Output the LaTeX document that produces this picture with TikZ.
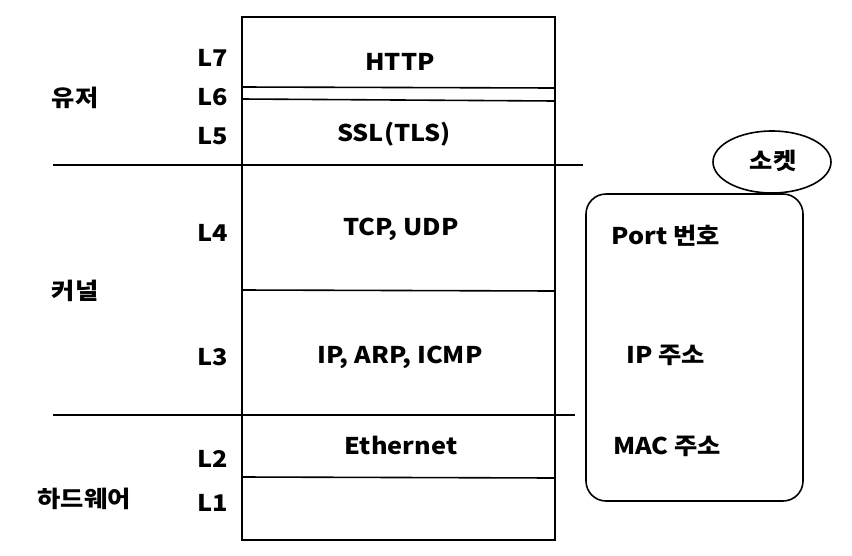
\documentclass[tikz,border=0pt]{standalone}
\usepackage{fontspec}
\setmainfont{Noto Sans CJK KR}[FakeStretch=1.1]

\begin{document}
\begin{tikzpicture}[x=1pt,y=-1pt,line width=1.6pt]
    \tikzstyle{label}=[font=\fontsize{23}{26}\selectfont\bfseries, inner sep=0pt]
    \tikzstyle{layer}=[label, anchor=base]
    \tikzstyle{proto}=[label, anchor=base]
    \tikzstyle{divider}=[line width=1.6pt]

    \useasboundingbox (0,0) rectangle (852,555);

    % Draw the protocol stack
    \draw (242,17) rectangle (555,540);
    \draw[divider] (242,87) -- (555,88);
    \draw[divider] (242,99) -- (555,101);
    \draw[divider] (242,290) -- (555,291);
    \draw[divider] (242,477) -- (555,478);

    % Draw the boundaries between user, kernel and hardware
    \draw[divider] (53,165) -- (583,165);
    \draw[divider] (53,415) -- (575,415);

    % Protocols in each layer
    \node[proto] (http) at (400,70) {HTTP};
    \node[proto] (ssl) at (394,141) {SSL(TLS)};
    \node[proto] (tcp) at (401,235) {TCP, UDP};
    \node[proto] (ip) at (400,363) {IP, ARP, ICMP};
    \node[proto] (eth) at (401,454) {Ethernet};

    % Layer numbers
    \node[layer] (L7) at (213,66) {L7};
    \node[layer] (L6) at (213,105) {L6};
    \node[layer] (L5) at (213,144) {L5};
    \node[layer] (L4) at (213,241) {L4};
    \node[layer] (L3) at (213,365) {L3};
    \node[layer] (L2) at (213,467) {L2};
    \node[layer] (L1) at (213,511) {L1};

    % Annotate the spaces
    \node[label] (user) at (75,98) {유저};
    \node[label] (kernel) at (75,291) {커널};
    \node[label] (hw) at (84,499) {하드웨어};

    % Draw the socket box
    \draw[rounded corners=20pt] (586,194) rectangle (803,501);
    \draw (772,162) ellipse (59pt and 31pt);
    \node[label] (socket) at (773,161) {소켓};
    \node[proto] (port) at (666,244) {Port 번호};
    \node[proto] (ipaddr) at (666,363) {IP 주소};
    \node[proto] (mac) at (667,454) {MAC 주소};
\end{tikzpicture}
\end{document}
